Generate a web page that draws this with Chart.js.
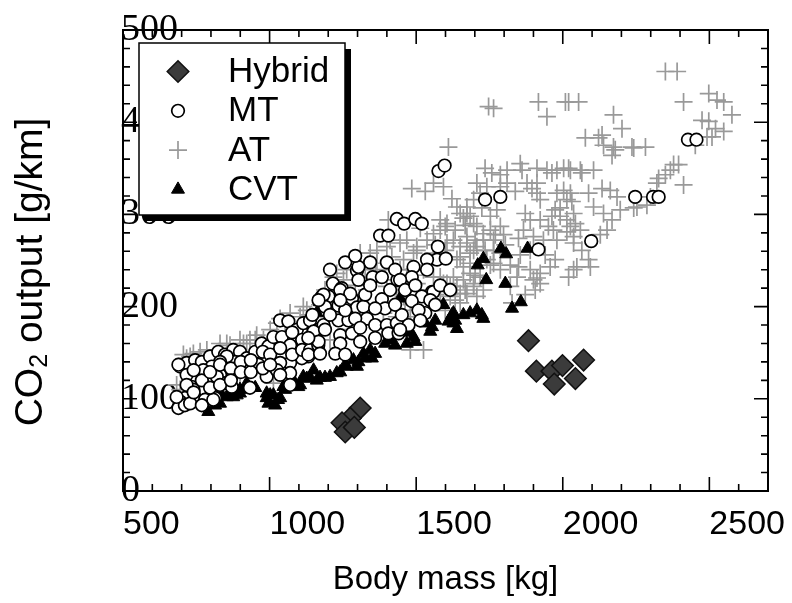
<!DOCTYPE html>
<html>
<head>
<meta charset="utf-8">
<script src="https://cdn.jsdelivr.net/npm/chart.js@4/dist/chart.umd.min.js"></script>
<style>
  html, body { margin: 0; padding: 0; background: #fff; }
  canvas { display: block; }
</style>
</head>
<body>
<canvas id="chart" width="792" height="603"></canvas>
<script>
// body mass [kg], CO2 output [g/km]
const hybrid = [
  [1883,163],[1910,130],[1963,130],[1999,136],[1971,116],[2043,122],[2071,142],
  [1309,90],[1275,79],[1247,74],[1258,64],[1289,69]
];

const mt = [
  [695,135],[717,139],[746,142],[769,140],[797,146],[825,151],[848,148],[876,153],[899,151],[922,144],
  [951,151],[973,160],[996,157],[1013,167],[1042,167],[1070,158],[1036,185],[1064,184],[1093,175],[1115,182],
  [1150,175],[1150,162],[1132,146],[1110,144],[1070,139],[1036,139],[990,142],[962,137],[922,137],[882,140],
  [854,146],[831,140],[803,135],[774,131],[746,122],[797,120],[831,126],[848,117],[871,113],[734,113],
  [769,110],[803,106],[711,101],[695,97],[689,90],[711,93],[683,102],[746,101],[780,99],[814,101],
  [933,112],[990,124],[1025,131],[1070,128],[1070,115],[689,137],[740,110],[820,124],[808,99],[729,95],
  [717,126],[717,115],[741,131],[741,107],[769,120],[769,93],[797,129],[797,112],[831,137],[831,115],
  [868,133],[868,120],[902,140],[902,129],[936,129],[936,142],[977,151],[977,133],[1002,148],[1002,137],
  [1036,155],[1036,126],[1077,172],[1077,148],[1111,164],[1111,153],[1138,185],[1138,153],[1166,175],[1166,158],
  [1434,295],[1459,290],[1497,295],[1519,290],[1377,277],[1405,277],[1574,265],[1571,251],[1601,252],[1537,251],
  [1537,240],[1491,243],[1485,232],[1298,239],[1303,229],[1343,248],[1352,232],[1383,232],[1400,248],[1436,229],
  [1216,225],[1246,220],[1201,211],[1178,211],[1281,209],[1189,200],[1235,201],[1298,199],[1320,200],[1383,208],
  [1394,198],[1360,198],[1554,216],[1519,211],[1485,206],[1531,193],[1184,180],[1150,173],[1235,185],[1269,185],
  [1332,187],[1360,180],[1400,180],[1434,182],[1451,191],[1241,169],[1281,171],[1167,162],[1132,166],[1241,160],
  [1309,162],[1405,171],[1440,171],[1474,180],[1132,148],[1172,149],[1224,149],[1258,148],[1303,243],[1428,240],
  [1184,213],[1241,218],[1275,214],[1445,229],[1559,216],
  [1206,191],[1258,196],[1292,187],[1326,213],[1343,223],[1411,218],[1428,202],[1462,218],[1497,223],[1508,196],
  [1548,207],[1582,223],[1616,218],[1241,207],[1206,240],[1258,248],[1292,255],[1167,207],[1146,191],[1189,175],
  [1309,177],[1360,166],[1445,175],[1514,185],[1565,202],
  [1576,347],[1597,353],[1735,316],[1787,319],[1917,262],[2097,271],[2427,381],[2456,381],[2247,319],[2308,319],[2327,319]
];

const at = [
  [2350,455],[2390,455],[2412,422],[2498,431],[2526,424],[2549,422],[2577,408],[2475,402],[2498,401],[2521,393],
  [2549,390],[2492,384],[2509,384],[2452,375],
  [2009,422],[2020,422],[2054,422],[2173,408],[2202,393],[2077,383],[2122,383],[2134,386],[2139,375],[2173,373],
  [2179,370],[2168,364],[2236,373],[2282,373],[2242,372],
  [2378,354],[2395,354],[2367,348],[2350,343],[2327,339],[2321,334],[2412,332],[2299,319],[2287,310],[2253,308],[2242,307],
  [2003,350],[2020,350],[2060,348],[2105,348],[2003,326],[2026,323],[2031,314],[2088,323],[2134,328],[2162,326],
  [2185,319],[2105,308],[2139,301],[2168,294],[2151,283],[2128,278],[2196,305],[2037,301],[2043,290],[2014,281],[2037,269],
  [1764,415],[1747,417],[1917,422],[1946,406],[1610,373],
  [1735,350],[1758,345],[1787,343],[1810,348],[1855,355],[1861,348],[1912,350],[1946,348],[1963,345],[1980,348],
  [2026,348],[2065,345],
  [1485,328],[1531,325],[1559,334],[1593,330],[1622,317],[1707,334],[1741,330],[1718,323],[1696,316],[1673,308],
  [1787,330],[1810,334],[1838,325],[1878,334],[1895,328],[1912,334],[1912,323],[1923,316],[1980,323],[2014,316],
  [1991,307],[1974,305],
  [1639,308],[1650,301],[1661,296],[1684,298],[1724,307],[1753,298],[1775,305],[1582,294],[1599,287],[1559,279],[1514,285],
  [1872,301],[1889,294],[1923,294],[1951,287],[1963,298],[1991,298],[2014,294],[2026,287],[2037,276],[2060,283],
  [1866,283],[1849,274],[1900,276],[1934,272],[1968,283],[1980,272],
  [1707,287],[1729,279],[1753,283],[1764,272],[1787,287],[1798,278],
  [2065,261],[2088,251],[2094,243],[2048,243],[2020,232],[1923,236],[1900,229],[1889,240],[1957,243],[1849,243],
  [1844,232],[1821,222],[1787,258],[1764,247],[1974,251],[2037,240],[1912,231],[1923,225],[1827,204],
  [1627,272],[1650,265],[1673,276],[1684,258],[1707,265],[1729,272],[1639,251],[1661,243],[1684,236],[1718,232],
  [1741,251],[1764,261],[1661,229],[1696,222],[1729,218],[1627,232],[1616,222],[1650,214],
  [1468,272],[1502,265],[1537,272],[1457,251],[1491,258],[1605,269],[1525,240],[1480,240],[1559,232],[1593,225],
  [1514,218],[1582,207],[1548,196],[1502,207],
  [1673,301],[1696,290],[1605,290],[1582,283],[1445,269],[1411,272],[1366,261],[1343,258],[1673,269],[1696,261],
  [1650,254],[1684,247],[1696,225],[1639,222],[1673,214],[1707,211],[1605,225],[1616,211],[1650,204],
  [1229,236],[1263,240],[1309,258],[1252,229],[1366,247],[1445,240],[1468,232],[1434,218],[1457,211],[1400,222],
  [1332,218],[1502,225],[1582,232],[1559,258],[1502,261],[1480,196],[1502,189],[1434,189],[1388,193],[1480,153],
  [1525,153],[1127,196],[1104,189],
  [1565,267],[1599,261],[1633,283],[1667,288],[1701,272],[1735,261],[1770,278],[1804,267],[1821,245],[1855,256],
  [1889,261],[1940,256],[1906,218],[1872,213],[1787,240],[1753,245],[1701,234],[1667,218],[1633,207],[1599,196],
  [1565,213],[1531,245],[1497,234],[1462,207],[1428,229],[1394,240],[1360,234],[1326,240],[1292,223],[1275,207],
  [1224,207],[1172,202],[1138,191],[1070,180],[1002,175],[956,169],[899,164],[865,158],[763,151],[729,146],
  [706,148],[740,149],[831,160],[933,164],[911,160],[951,164],[1013,117],[899,124],[865,122],[1036,187],
  [683,115],[695,110],[717,144],[786,153],[820,149],[854,160],[922,160],[979,164],[1025,182],[1070,193],[1115,200],
  [1405,294],[1400,265],[1417,254],[1218,232],[1189,218],
  [1206,164],[1275,175],[1343,185],[1411,169],[1309,207],[968,153],[1053,169]
];

const cvt = [
  [791,86],[854,102],[888,104],[990,101],[996,95],[1013,104],[1098,113],[1127,122],[1150,131],[1161,193],
  [820,99],[922,117],[831,95],[876,102],[899,106],[990,106],[1047,113],[1081,120],[1115,124],[1161,120],
  [1206,124],[1229,128],[1263,135],[1286,142],[1320,149],[1343,153],[1349,144],[1172,205],[1172,123],[1298,135],
  [1029,99],[1445,209],[1593,202],[1622,191],[1661,191],[1707,196],[1531,182],[1565,185],[1554,178],[1627,182],
  [1639,176],[1491,167],[1468,160],[1428,158],[1394,160],[1497,162],
  [1002,104],[1019,93],[1036,101],[1053,110],[1104,115],[1138,123],[1189,123],[1241,129],[1258,137],[1303,140],
  [1326,144],[1360,149],[1411,164],[1480,172],[1548,173],[1610,184],[1684,193],
  [865,104],[899,110],[951,112],[814,93],[837,104],
  [1789,263],[1807,257],[1880,263],[1729,252],[1710,245],[1739,229],[1804,225],[1857,205],[1827,198],[1627,193],
  [1724,191],[1633,185],[1729,187]
];

const legendOrder = ['Hybrid', 'MT', 'AT', 'CVT'];
const massTicks = [500, 1000, 1500, 2000, 2500];
const co2Ticks = [0, 100, 200, 300, 400, 500];
const massRange = [500, 2700];
const co2Range = [0, 500];
const massMinorStep = 100;
const co2MinorStep = 20;

const SANS = '"Liberation Sans", Arial, sans-serif';
const SERIF = '"Liberation Serif", "Times New Roman", serif';
Chart.defaults.font.family = SANS;
Chart.defaults.color = '#000';

const toXY = rows => rows.map(([x, y]) => ({ x, y }));

// inward ticks on all four sides plus the plot frame
const axisFrame = {
  id: 'axisFrame',
  afterDatasetsDraw(chart) {
    const { ctx, chartArea: a, scales: { x, y } } = chart;
    ctx.save();
    ctx.strokeStyle = '#000';
    ctx.lineWidth = 1.6;
    ctx.beginPath();
    for (let v = massRange[0]; v <= massRange[1]; v += massMinorStep) {
      const px = x.getPixelForValue(v);
      const len = massTicks.includes(v) ? 14 : 7;
      ctx.moveTo(px, a.bottom); ctx.lineTo(px, a.bottom - len);
      ctx.moveTo(px, a.top); ctx.lineTo(px, a.top + len);
    }
    for (let v = co2Range[0]; v <= co2Range[1]; v += co2MinorStep) {
      const py = y.getPixelForValue(v);
      const len = co2Ticks.includes(v) ? 14 : 7;
      ctx.moveTo(a.left, py); ctx.lineTo(a.left + len, py);
      ctx.moveTo(a.right, py); ctx.lineTo(a.right - len, py);
    }
    ctx.stroke();
    ctx.lineWidth = 2;
    ctx.strokeRect(a.left, a.top, a.right - a.left, a.bottom - a.top);
    ctx.restore();
  }
};

// boxed legend with a drop shadow, drawn over the plot
const boxLegend = {
  id: 'boxLegend',
  afterDraw(chart) {
    const { ctx } = chart;
    const box = { left: 139, top: 43, width: 206, height: 172, shadow: 6 };
    const rowTop = 71.5, rowGap = 39.3, symbolX = 178, textX = 228;
    ctx.save();
    ctx.fillStyle = '#000';
    ctx.fillRect(box.left + box.shadow, box.top + box.shadow, box.width, box.height);
    ctx.fillStyle = '#fff';
    ctx.fillRect(box.left, box.top, box.width, box.height);
    ctx.strokeStyle = '#000';
    ctx.lineWidth = 1.5;
    ctx.strokeRect(box.left, box.top, box.width, box.height);

    legendOrder.forEach((name, i) => {
      const ds = chart.data.datasets.find(d => d.label === name);
      const cy = rowTop + i * rowGap;
      ctx.fillStyle = ds.backgroundColor;
      ctx.strokeStyle = ds.borderColor;
      ctx.lineWidth = ds.borderWidth;
      Chart.helpers.drawPoint(ctx, {
        pointStyle: ds.pointStyle, radius: ds.pointRadius, rotation: 0, borderWidth: ds.borderWidth
      }, symbolX, cy);
      ctx.fillStyle = '#000';
      ctx.font = `35px ${SANS}`;
      ctx.textBaseline = 'middle';
      ctx.textAlign = 'left';
      ctx.fillText(name, textX, cy + 1);
    });
    ctx.restore();
  }
};

// vertical axis title with a subscript
const co2Title = {
  id: 'co2Title',
  afterDraw(chart) {
    const { ctx } = chart;
    const head = 'CO', sub = '2', tail = ' output [g/km]';
    ctx.save();
    ctx.translate(31, 272);
    ctx.rotate(-Math.PI / 2);
    ctx.fillStyle = '#000';
    ctx.textBaseline = 'middle';
    ctx.textAlign = 'left';
    ctx.font = `39px ${SANS}`;
    const wHead = ctx.measureText(head).width;
    const wTail = ctx.measureText(tail).width;
    ctx.font = `25px ${SANS}`;
    const wSub = ctx.measureText(sub).width;
    let sx = -(wHead + wSub + wTail) / 2;
    ctx.font = `39px ${SANS}`;
    ctx.fillText(head, sx, 0);
    ctx.font = `25px ${SANS}`;
    ctx.fillText(sub, sx + wHead, 9);
    ctx.font = `39px ${SANS}`;
    ctx.fillText(tail, sx + wHead + wSub, 0);
    ctx.restore();
  }
};

new Chart(document.getElementById('chart'), {
  type: 'scatter',
  data: {
    datasets: [
      { label: 'Hybrid', data: toXY(hybrid), pointStyle: 'rectRot', pointRadius: 10.8,
        backgroundColor: '#3b3b3b', borderColor: '#111', borderWidth: 1.5 },
      { label: 'MT', data: toXY(mt), pointStyle: 'circle', pointRadius: 6.3,
        backgroundColor: '#fff', borderColor: '#000', borderWidth: 1.7 },
      { label: 'CVT', data: toXY(cvt), pointStyle: 'triangle', pointRadius: 7.5,
        backgroundColor: '#000', borderColor: '#000', borderWidth: 1 },
      { label: 'AT', data: toXY(at), pointStyle: 'cross', pointRadius: 9,
        backgroundColor: '#999', borderColor: '#999', borderWidth: 1.7 }
    ]
  },
  options: {
    responsive: false,
    animation: false,
    layout: { padding: { left: 0, top: 30, right: 24, bottom: 0 } },
    plugins: { legend: { display: false }, tooltip: { enabled: false } },
    scales: {
      x: {
        type: 'linear',
        min: massRange[0],
        max: massRange[1],
        grid: { display: false, drawTicks: false, tickLength: 0 },
        border: { display: false },
        afterBuildTicks: s => { s.ticks = massTicks.map(value => ({ value })); },
        afterFit: s => { s.height = 112; s.paddingLeft = 0; s.paddingRight = 0; },
        ticks: {
          align: 'start', padding: 13, maxRotation: 0, minRotation: 0, autoSkip: false,
          font: { size: 34 }, color: '#000', callback: v => String(v)
        },
        title: {
          display: true, text: 'Body mass [kg]', color: '#000',
          font: { size: 33 }, padding: { top: 0, bottom: 3 }
        }
      },
      y: {
        type: 'linear',
        min: co2Range[0],
        max: co2Range[1],
        grid: { display: false, drawTicks: false, tickLength: 0 },
        border: { display: false },
        afterBuildTicks: s => { s.ticks = co2Ticks.map(value => ({ value })); },
        afterFit: s => { s.width = 123; s.paddingTop = 0; s.paddingBottom = 0; },
        ticks: {
          mirror: true, padding: -2, autoSkip: false,
          font: { family: SERIF, size: 38 }, color: '#000', callback: v => String(v)
        }
      }
    }
  },
  plugins: [axisFrame, co2Title, boxLegend]
});
</script>
</body>
</html>
